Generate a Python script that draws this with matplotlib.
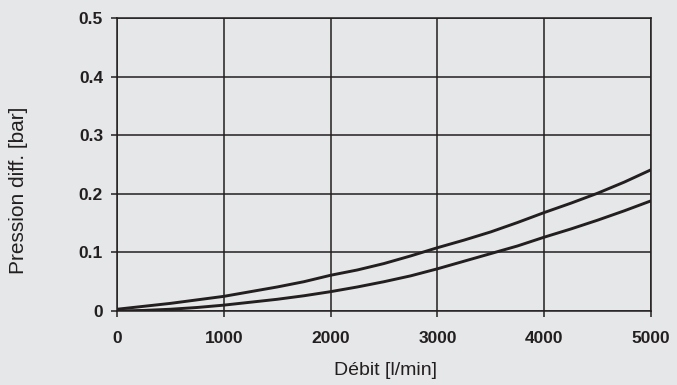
import matplotlib
matplotlib.use("Agg")
import matplotlib.pyplot as plt

# flow [l/min]
debit = [0, 250, 500, 750, 1000, 1250, 1500, 1750, 2000, 2250, 2500,
         2750, 3000, 3250, 3500, 3750, 4000, 4250, 4500, 4750, 5000]
# differential pressure [bar], upper curve
p_haut = [0.003, 0.008, 0.013, 0.019, 0.025, 0.033, 0.041, 0.050, 0.061, 0.070, 0.081,
          0.094, 0.108, 0.121, 0.135, 0.151, 0.168, 0.184, 0.201, 0.220, 0.241]
# differential pressure [bar], lower curve
p_bas = [0.0, 0.001, 0.003, 0.006, 0.010, 0.015, 0.020, 0.026, 0.033, 0.041, 0.050,
         0.060, 0.072, 0.085, 0.098, 0.111, 0.126, 0.140, 0.155, 0.171, 0.188]

xticks = [0, 1000, 2000, 3000, 4000, 5000]
yticks = [0, 0.1, 0.2, 0.3, 0.4, 0.5]
yticklabels = ['0', '0.1', '0.2', '0.3', '0.4', '0.5']

bg = '#e6e7e8'
ink = '#231f20'

plt.rcParams['font.family'] = ['Liberation Sans', 'DejaVu Sans']

fig = plt.figure(figsize=(6.77, 3.85), dpi=100, facecolor=bg)
ax = fig.add_axes([0.1728, 0.1922, 0.9616 - 0.1728, 0.9532 - 0.1922])
ax.set_facecolor(bg)

ax.plot(debit, p_haut, color=ink, lw=2.1, zorder=3)
ax.plot(debit, p_bas, color=ink, lw=2.1, zorder=3)

ax.set_xlim(0, 5000)
ax.set_ylim(0, 0.5)
ax.set_xticks(xticks)
ax.set_yticks(yticks)
ax.set_yticklabels(yticklabels)
ax.grid(True, color=ink, lw=1.1)
ax.set_axisbelow(True)
for s in ax.spines.values():
    s.set_color(ink)
    s.set_linewidth(1.1)
ax.tick_params(direction='out', length=4, width=1.1, color=ink,
               labelsize=12.5, labelcolor=ink)
ax.tick_params(axis='x', pad=10.5)
ax.tick_params(axis='y', pad=6)
for lab in ax.get_xticklabels() + ax.get_yticklabels():
    lab.set_fontweight('bold')

ax.set_xlabel('Débit [l/min]', fontsize=14, color=ink)
ax.set_ylabel('Pression diff. [bar]', fontsize=15, color=ink)
ax.xaxis.set_label_coords(0.502, -0.174)
ax.yaxis.set_label_coords(-0.167, 0.413)

fig.savefig('out.png', dpi=100, facecolor=bg)
